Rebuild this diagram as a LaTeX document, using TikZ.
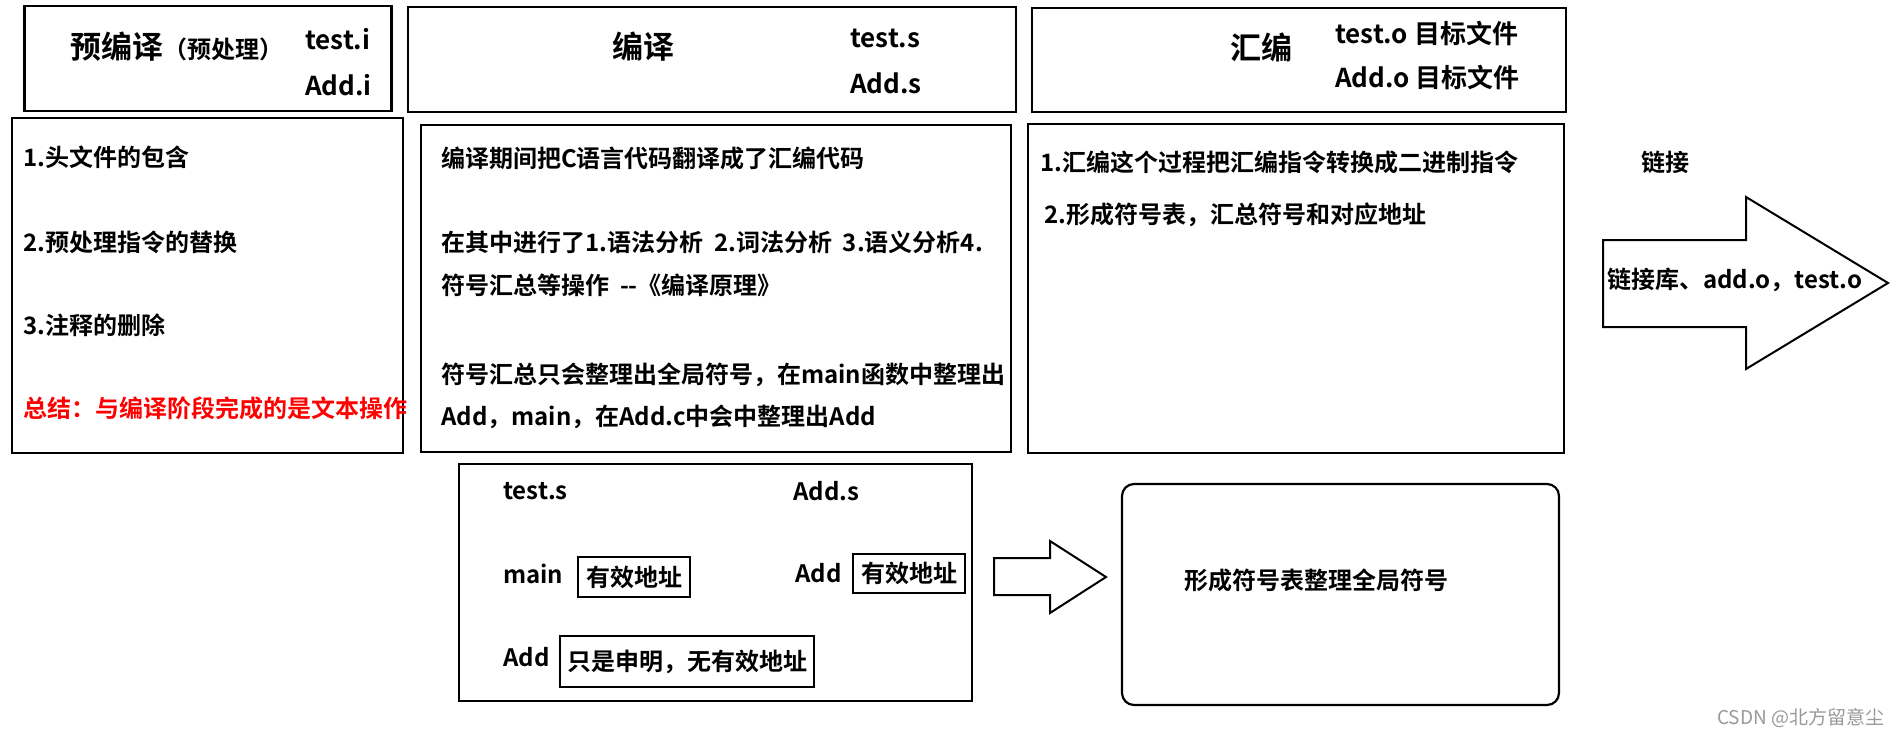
\documentclass[tikz,border=0pt]{standalone}
\usepackage{fontspec}
\setmainfont{Noto Sans CJK SC}[BoldFont={Noto Sans CJK SC Bold}]
\begin{document}
\begin{tikzpicture}[x=1pt, y=-1pt,
    box/.style={draw, line width=2.2pt, inner sep=0pt},
    txt/.style={anchor=west, inner sep=0pt, font=\fontsize{24}{28}\selectfont\bfseries},
    stage/.style={inner sep=0pt, font=\fontsize{31}{36}\selectfont\bfseries},
    fname/.style={anchor=west, inner sep=0pt, font=\fontsize{26}{30}\selectfont\bfseries}]
    \useasboundingbox[fill=white] (0,0) rectangle (1897,738);
    % the three stages and what each one does
    \node[box, minimum width=367, minimum height=105] (pre) at (208,58.5) {};
    \node[box, minimum width=608, minimum height=105] (comp) at (712,59.5) {};
    \node[box, minimum width=534, minimum height=104] (asm) at (1299,60) {};
    \node[box, minimum width=391, minimum height=335] (prebody) at (207.5,285.5) {};
    \node[box, minimum width=590, minimum height=327] (compbody) at (716,288.5) {};
    \node[box, minimum width=536, minimum height=329] (asmbody) at (1296,288.5) {};
    \node[stage, anchor=west] (pretitle) at (70,47) {预编译{\fontsize{24}{28}\selectfont （预处理）}};
    \node[fname] (testi) at (305,39) {test.i};
    \node[fname] (addi) at (305,85) {Add.i};
    \node[stage] (comptitle) at (643,47) {编译};
    \node[fname] (tests) at (850,38) {test.s};
    \node[fname] (adds) at (850,83) {Add.s};
    \node[stage] (asmtitle) at (1261,47) {汇编};
    \node[fname] (testo) at (1335,33) {test.o 目标文件};
    \node[fname] (addo) at (1335,77) {Add.o 目标文件};
    \node[txt] (pre1) at (23,157) {1.头文件的包含};
    \node[txt] (pre2) at (23,242) {2.预处理指令的替换};
    \node[txt] (pre3) at (23,325) {3.注释的删除};
    \node[txt, text=red] (presum) at (23,408) {总结：与编译阶段完成的是文本操作};
    \node[txt] (comp1) at (441,158) {编译期间把C语言代码翻译成了汇编代码};
    \node[txt] (comp2) at (441,242) {在其中进行了1.语法分析~~2.词法分析~~3.语义分析4.};
    \node[txt] (comp3) at (441,285) {符号汇总等操作~~-{}-《编译原理》};
    \node[txt] (comp4) at (441,375) {符号汇总只会整理出全局符号，在main函数中整理出};
    \node[txt] (comp5) at (441,417) {Add，main，在Add.c中会中整理出Add};
    \node[txt] (asm1) at (1040,162) {1.汇编这个过程把汇编指令转换成二进制指令};
    \node[txt] (asm2) at (1044,215) {2.形成符号表，汇总符号和对应地址};
    % linking
    \node[txt, anchor=center] (link) at (1665,162) {链接};
    \draw[line width=2pt] (1603,240) -- (1746,240) -- (1746,197) -- (1888,283)
        -- (1746,369) -- (1746,327) -- (1603,327) -- cycle;
    \node[txt] (linkin) at (1607,280) {链接库、add.o，test.o};
    % symbols of the two files
    \node[box, minimum width=513, minimum height=237] (sym) at (715.5,582.5) {};
    \node[txt] (symtests) at (503,491) {test.s};
    \node[txt] (symadds) at (793,491) {Add.s};
    \node[txt] (main) at (503,574) {main};
    \node[box, txt, anchor=center, minimum width=112, minimum height=40] (mainaddr) at (634,577) {有效地址};
    \node[txt] (add) at (795,573) {Add};
    \node[box, txt, anchor=center, minimum width=112, minimum height=39] (addaddr) at (909,573.5) {有效地址};
    \node[txt] (adddecl) at (503,657) {Add};
    \node[box, txt, anchor=center, minimum width=254, minimum height=51] (declnote) at (687,661.5) {只是申明，无有效地址};
    \draw[line width=2pt] (994,558) -- (1050,558) -- (1050,541) -- (1106,577)
        -- (1050,613) -- (1050,595) -- (994,595) -- cycle;
    \node[box, rounded corners=12pt, minimum width=437, minimum height=221] (table) at (1340.5,594.5) {};
    \node[txt] (tabletext) at (1184,580) {形成符号表整理全局符号};
    \node[anchor=west, inner sep=0pt, text=black!40, font=\fontsize{19}{21}\selectfont] (mark) at (1717,718) {CSDN @北方留意尘};
\end{tikzpicture}
\end{document}
